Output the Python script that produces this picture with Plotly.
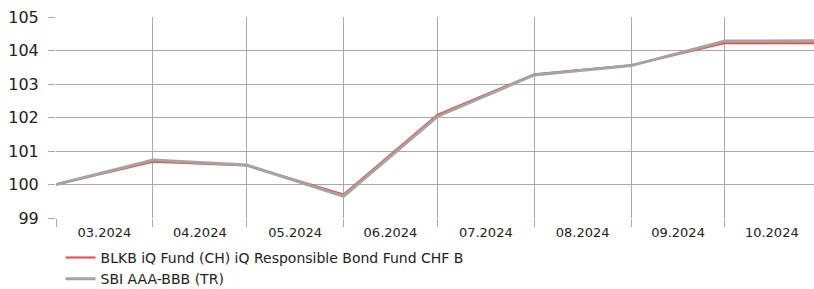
import plotly.graph_objects as go

dates = ["2024-03-01", "2024-04-01", "2024-05-01", "2024-06-01", "2024-07-01",
         "2024-08-01", "2024-09-01", "2024-10-01", "2024-10-29 12:00"]
fund_values = [100.0, 100.68, 100.57, 99.70, 102.08, 103.29, 103.56, 104.22, 104.22]
index_values = [100.0, 100.73, 100.58, 99.65, 102.03, 103.27, 103.55, 104.28, 104.29]
fund_name = "BLKB iQ Fund (CH) iQ Responsible Bond Fund CHF B"
index_name = "SBI AAA-BBB (TR)"
y_ticks = [99, 100, 101, 102, 103, 104, 105]

FONT = "DejaVu Sans"

fig = go.Figure()
fig.add_trace(go.Scatter(x=dates, y=fund_values, mode="lines", name=fund_name,
                         line=dict(color="#e8474c", width=2)))
fig.add_trace(go.Scatter(x=dates, y=index_values, mode="lines", name=index_name,
                         line=dict(color="#a3a59e", width=3)))

fig.update_layout(
    width=814, height=289,
    margin=dict(l=56, r=0, t=17, b=71),
    paper_bgcolor="white", plot_bgcolor="white",
    font=dict(family=FONT, color="#222222"),
    showlegend=True,
    legend=dict(x=0.006, y=0.163, xanchor="left", yanchor="top", yref="container",
                font=dict(size=14, family=FONT, color="#222222"),
                tracegroupgap=0, itemwidth=30, bgcolor="rgba(0,0,0,0)"),
    xaxis=dict(type="date", range=["2024-03-01", "2024-10-29 12:00"],
               dtick="M1", tick0="2024-01-01", tickformat="%m.%Y",
               ticklabelmode="period", showgrid=True, gridcolor="#a8a8a8",
               gridwidth=1, ticks="outside", ticklen=8, tickcolor="#a8a8a8",
               tickfont=dict(size=13, family=FONT, color="#222222"),
               ticklabelstandoff=-6, automargin=False, ticklabeloverflow="allow",
               showline=False, zeroline=False),
    yaxis=dict(range=[99, 105], tickvals=y_ticks, showgrid=True,
               gridcolor="#a8a8a8", gridwidth=1, ticks="outside", ticklen=7,
               tickcolor="#a8a8a8", tickfont=dict(size=16, family=FONT, color="#222222"),
               ticklabelstandoff=6, automargin=False, ticklabeloverflow="allow",
               zeroline=False, showline=False),
)

fig.write_html("out.html", config={"displayModeBar": False},
               post_script="document.body.style.margin='0';document.body.style.overflow='hidden';")
